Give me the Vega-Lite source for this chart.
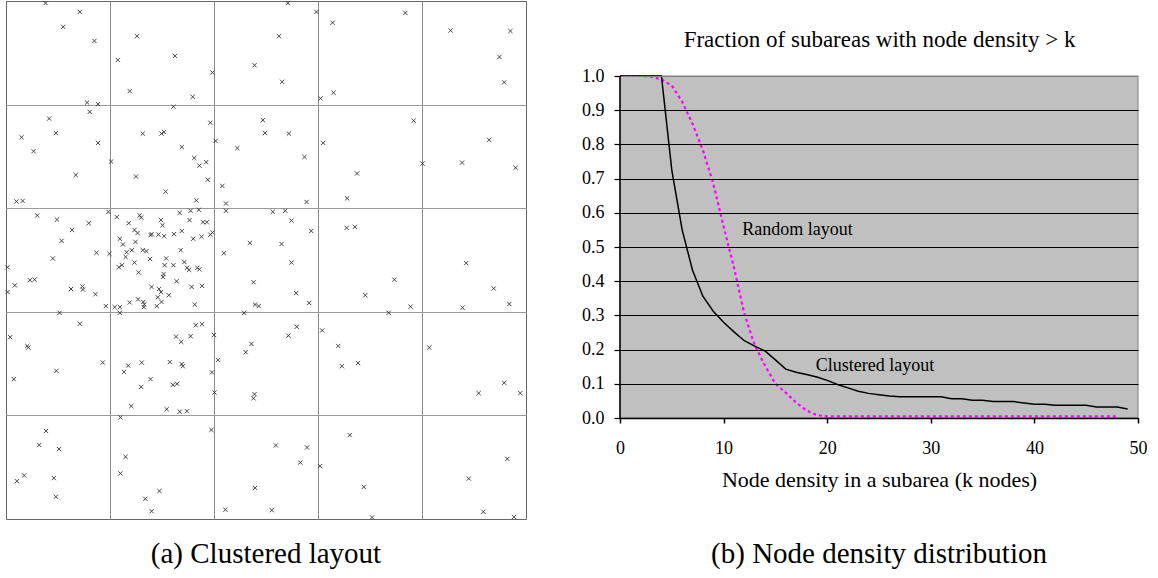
{
  "$schema": "https://vega.github.io/schema/vega-lite/v6.json",
  "padding": {"left": 3, "top": -2, "right": 0, "bottom": 0},
  "background": "white",
  "spacing": 54,
  "config": {
    "font": "Liberation Serif",
    "axis": {"labelColor": "black", "titleColor": "black", "labelFont": "Liberation Serif", "titleFont": "Liberation Serif", "titleFontWeight": "normal"},
    "title": {"font": "Liberation Serif", "fontWeight": "normal", "color": "black"}
  },
  "datasets": {
    "pts": [
      {"x":7.6,"y":99.6},{"x":14.2,"y":97.9},{"x":11.0,"y":95.0},{"x":17.0,"y":92.3},{"x":25.2,"y":93.2},{"x":21.5,"y":88.6},{"x":32.5,"y":89.4},{"x":39.7,"y":86.2},{"x":47.8,"y":87.6},{"x":23.8,"y":82.6},{"x":35.9,"y":81.5},{"x":15.6,"y":80.4},{"x":17.7,"y":80.1},{"x":16.1,"y":78.6},{"x":32.2,"y":79.6},{"x":8.3,"y":77.3},{"x":3.0,"y":73.7},{"x":9.6,"y":74.5},{"x":5.3,"y":71.0},{"x":17.7,"y":72.6},{"x":26.3,"y":74.4},{"x":29.9,"y":74.4},{"x":30.4,"y":74.7},{"x":39.3,"y":76.5},{"x":33.8,"y":71.8},{"x":40.3,"y":73.0},{"x":44.5,"y":71.6},{"x":49.4,"y":77.0},{"x":49.8,"y":74.5},{"x":20.2,"y":69.0},{"x":36.2,"y":69.7},{"x":37.2,"y":68.2},{"x":38.5,"y":68.9},{"x":13.4,"y":66.4},{"x":25.0,"y":66.1},{"x":38.8,"y":65.5},{"x":41.6,"y":64.3},{"x":30.7,"y":63.2},{"x":2.0,"y":61.3},{"x":3.2,"y":61.4},{"x":36.6,"y":61.5},{"x":42.3,"y":60.9},
      {"x":54.2,"y":99.6},{"x":59.7,"y":97.9},{"x":76.8,"y":97.7},{"x":62.8,"y":95.8},{"x":52.5,"y":93.2},{"x":85.5,"y":94.3},{"x":97.0,"y":94.2},{"x":94.9,"y":89.2},{"x":95.8,"y":84.3},{"x":53.1,"y":84.4},{"x":63.0,"y":82.3},{"x":60.5,"y":81.2},{"x":54.4,"y":74.4},{"x":78.4,"y":76.9},{"x":61.0,"y":72.6},{"x":57.4,"y":69.9},{"x":92.9,"y":73.2},{"x":80.1,"y":68.6},{"x":87.7,"y":68.8},{"x":98.0,"y":67.8},{"x":67.5,"y":66.7},{"x":57.8,"y":61.2},{"x":65.6,"y":61.9},
      {"x":6.0,"y":58.6},{"x":9.8,"y":57.8},{"x":15.9,"y":57.1},{"x":12.7,"y":55.8},{"x":10.7,"y":53.7},{"x":19.7,"y":59.3},{"x":21.3,"y":58.3},{"x":23.6,"y":57.1},{"x":25.7,"y":58.6},{"x":26.0,"y":58.2},{"x":29.8,"y":57.7},{"x":30.1,"y":56.7},{"x":33.4,"y":59.1},{"x":35.5,"y":59.5},{"x":37.1,"y":59.7},{"x":35.3,"y":57.7},{"x":37.9,"y":57.3},{"x":38.6,"y":57.3},{"x":42.3,"y":59.5},{"x":24.7,"y":55.8},{"x":25.3,"y":55.2},{"x":27.8,"y":54.8},{"x":28.0,"y":55.0},{"x":29.3,"y":54.9},{"x":30.4,"y":54.6},{"x":32.3,"y":55.0},{"x":33.8,"y":55.6},{"x":36.0,"y":54.1},{"x":37.6,"y":54.5},{"x":39.3,"y":54.9},{"x":39.7,"y":55.3},{"x":46.9,"y":53.3},{"x":21.9,"y":54.1},{"x":22.5,"y":53.0},{"x":24.9,"y":53.5},{"x":17.4,"y":51.4},{"x":19.9,"y":51.2},{"x":23.2,"y":51.5},{"x":23.0,"y":50.6},{"x":24.2,"y":51.9},{"x":26.3,"y":51.9},{"x":27.0,"y":51.7},{"x":33.6,"y":51.9},{"x":41.9,"y":51.3},{"x":9.0,"y":50.3},{"x":0.3,"y":48.6},{"x":21.7,"y":48.6},{"x":22.3,"y":49.0},{"x":24.7,"y":49.5},{"x":27.7,"y":50.2},{"x":30.8,"y":50.3},{"x":30.5,"y":49.0},{"x":32.2,"y":49.0},{"x":34.3,"y":49.6},{"x":34.8,"y":48.5},{"x":35.2,"y":48.1},{"x":36.8,"y":48.5},{"x":37.2,"y":48.2},{"x":25.5,"y":47.6},{"x":30.3,"y":47.3},{"x":30.2,"y":46.7},{"x":32.8,"y":45.9},{"x":1.7,"y":45.1},{"x":4.6,"y":46.1},{"x":5.5,"y":46.2},{"x":0.3,"y":43.8},{"x":12.5,"y":44.4},{"x":14.7,"y":44.9},{"x":14.8,"y":44.3},{"x":17.2,"y":43.4},{"x":28.0,"y":44.8},{"x":29.4,"y":44.4},{"x":29.8,"y":43.8},{"x":35.7,"y":44.8},{"x":37.7,"y":45.0},{"x":47.6,"y":45.7},{"x":29.2,"y":42.8},{"x":31.3,"y":43.2},{"x":29.9,"y":41.9},{"x":25.4,"y":42.4},{"x":23.8,"y":41.8},{"x":26.4,"y":41.9},{"x":26.6,"y":41.4},{"x":26.5,"y":40.9},{"x":19.2,"y":41.1},{"x":20.9,"y":40.9},{"x":21.9,"y":40.9},{"x":29.0,"y":41.1},{"x":36.3,"y":41.4},{"x":47.9,"y":41.4},{"x":48.6,"y":41.1},{"x":10.3,"y":39.8},{"x":21.9,"y":39.8},{"x":45.8,"y":39.8},{"x":14.2,"y":37.7},{"x":0.8,"y":35.1},{"x":4.1,"y":33.4},{"x":4.3,"y":33.1},{"x":32.7,"y":35.2},{"x":33.7,"y":34.2},{"x":35.5,"y":35.3},{"x":36.5,"y":37.4},{"x":37.7,"y":37.6},{"x":40.0,"y":35.5},{"x":47.2,"y":33.8},
      {"x":51.3,"y":59.3},{"x":53.7,"y":59.5},{"x":54.9,"y":57.6},{"x":58.7,"y":55.6},{"x":53.0,"y":53.1},{"x":54.9,"y":49.5},{"x":65.5,"y":56.2},{"x":67.1,"y":56.4},{"x":88.5,"y":49.4},{"x":74.7,"y":46.2},{"x":93.8,"y":44.5},{"x":55.8,"y":43.6},{"x":58.3,"y":41.7},{"x":69.1,"y":43.2},{"x":77.8,"y":41.0},{"x":96.8,"y":41.5},{"x":87.8,"y":40.8},{"x":73.6,"y":39.8},{"x":55.9,"y":37.1},{"x":54.3,"y":35.4},{"x":60.8,"y":36.4},{"x":63.9,"y":33.4},{"x":81.4,"y":33.1},
      {"x":18.6,"y":30.2},{"x":9.7,"y":28.6},{"x":1.5,"y":27.0},{"x":23.5,"y":29.6},{"x":22.7,"y":28.4},{"x":26.1,"y":30.2},{"x":31.5,"y":30.3},{"x":33.8,"y":29.9},{"x":34.0,"y":29.5},{"x":27.8,"y":27.0},{"x":26.0,"y":25.5},{"x":32.1,"y":25.9},{"x":32.9,"y":26.1},{"x":46.1,"y":32.2},{"x":40.8,"y":30.7},{"x":39.6,"y":28.3},{"x":40.1,"y":24.4},{"x":47.8,"y":24.1},{"x":47.6,"y":23.3},{"x":24.1,"y":21.8},{"x":30.9,"y":21.2},{"x":33.4,"y":20.7},{"x":34.8,"y":20.8},{"x":22.0,"y":19.6},{"x":39.5,"y":17.2},{"x":7.7,"y":17.0},{"x":6.4,"y":14.3},{"x":10.2,"y":13.5},{"x":23.0,"y":12.0},{"x":22.0,"y":8.8},{"x":3.5,"y":8.4},{"x":2.1,"y":7.3},{"x":9.2,"y":7.9},{"x":9.6,"y":4.3},{"x":29.5,"y":5.4},{"x":26.8,"y":3.9},{"x":28.0,"y":1.5},{"x":47.9,"y":6.0},{"x":42.2,"y":1.8},
      {"x":64.6,"y":29.5},{"x":67.7,"y":30.1},{"x":95.8,"y":26.3},{"x":90.9,"y":24.3},{"x":98.9,"y":24.3},{"x":66.1,"y":16.2},{"x":51.9,"y":14.2},{"x":57.9,"y":13.8},{"x":56.6,"y":10.9},{"x":60.4,"y":10.2},{"x":68.8,"y":6.2},{"x":51.1,"y":1.7},{"x":70.4,"y":0.3},{"x":96.4,"y":11.6},{"x":89.0,"y":7.8},{"x":91.8,"y":1.4},{"x":97.7,"y":0.4}
    ],
    "curves": [
      {"k":0,"v":1,"series":"Random"},{"k":1,"v":1,"series":"Random"},{"k":2,"v":1,"series":"Random"},{"k":3,"v":0.998,"series":"Random"},{"k":4,"v":0.99,"series":"Random"},{"k":5,"v":0.972,"series":"Random"},{"k":6,"v":0.925,"series":"Random"},{"k":7,"v":0.86,"series":"Random"},{"k":8,"v":0.783,"series":"Random"},{"k":9,"v":0.686,"series":"Random"},{"k":10,"v":0.56,"series":"Random"},{"k":11,"v":0.44,"series":"Random"},{"k":12,"v":0.305,"series":"Random"},{"k":13,"v":0.213,"series":"Random"},{"k":14,"v":0.153,"series":"Random"},{"k":15,"v":0.1,"series":"Random"},{"k":16,"v":0.074,"series":"Random"},{"k":17,"v":0.045,"series":"Random"},{"k":18,"v":0.022,"series":"Random"},{"k":19,"v":0.008,"series":"Random"},{"k":20,"v":0.005,"series":"Random"},{"k":21,"v":0.005,"series":"Random"},{"k":22,"v":0.005,"series":"Random"},{"k":23,"v":0.005,"series":"Random"},{"k":24,"v":0.005,"series":"Random"},{"k":25,"v":0.005,"series":"Random"},{"k":26,"v":0.005,"series":"Random"},{"k":27,"v":0.005,"series":"Random"},{"k":28,"v":0.005,"series":"Random"},{"k":29,"v":0.005,"series":"Random"},{"k":30,"v":0.005,"series":"Random"},{"k":31,"v":0.005,"series":"Random"},{"k":32,"v":0.005,"series":"Random"},{"k":33,"v":0.005,"series":"Random"},{"k":34,"v":0.005,"series":"Random"},{"k":35,"v":0.005,"series":"Random"},{"k":36,"v":0.005,"series":"Random"},{"k":37,"v":0.005,"series":"Random"},{"k":38,"v":0.005,"series":"Random"},{"k":39,"v":0.005,"series":"Random"},{"k":40,"v":0.005,"series":"Random"},{"k":41,"v":0.005,"series":"Random"},{"k":42,"v":0.005,"series":"Random"},{"k":43,"v":0.005,"series":"Random"},{"k":44,"v":0.005,"series":"Random"},{"k":45,"v":0.005,"series":"Random"},{"k":46,"v":0.005,"series":"Random"},{"k":47,"v":0.005,"series":"Random"},{"k":48,"v":0.005,"series":"Random"},
      {"k":0,"v":1,"series":"Clustered"},{"k":1,"v":1,"series":"Clustered"},{"k":2,"v":1,"series":"Clustered"},{"k":3,"v":1,"series":"Clustered"},{"k":4,"v":1,"series":"Clustered"},{"k":5,"v":0.725,"series":"Clustered"},{"k":6,"v":0.55,"series":"Clustered"},{"k":7,"v":0.432,"series":"Clustered"},{"k":8,"v":0.356,"series":"Clustered"},{"k":9,"v":0.312,"series":"Clustered"},{"k":10,"v":0.28,"series":"Clustered"},{"k":11,"v":0.252,"series":"Clustered"},{"k":12,"v":0.226,"series":"Clustered"},{"k":13,"v":0.21,"series":"Clustered"},{"k":14,"v":0.196,"series":"Clustered"},{"k":15,"v":0.17,"series":"Clustered"},{"k":16,"v":0.143,"series":"Clustered"},{"k":17,"v":0.134,"series":"Clustered"},{"k":18,"v":0.127,"series":"Clustered"},{"k":19,"v":0.12,"series":"Clustered"},{"k":20,"v":0.11,"series":"Clustered"},{"k":21,"v":0.098,"series":"Clustered"},{"k":22,"v":0.088,"series":"Clustered"},{"k":23,"v":0.078,"series":"Clustered"},{"k":24,"v":0.072,"series":"Clustered"},{"k":25,"v":0.068,"series":"Clustered"},{"k":26,"v":0.064,"series":"Clustered"},{"k":27,"v":0.062,"series":"Clustered"},{"k":28,"v":0.062,"series":"Clustered"},{"k":29,"v":0.062,"series":"Clustered"},{"k":30,"v":0.062,"series":"Clustered"},{"k":31,"v":0.062,"series":"Clustered"},{"k":32,"v":0.056,"series":"Clustered"},{"k":33,"v":0.056,"series":"Clustered"},{"k":34,"v":0.052,"series":"Clustered"},{"k":35,"v":0.052,"series":"Clustered"},{"k":36,"v":0.048,"series":"Clustered"},{"k":37,"v":0.048,"series":"Clustered"},{"k":38,"v":0.048,"series":"Clustered"},{"k":39,"v":0.044,"series":"Clustered"},{"k":40,"v":0.04,"series":"Clustered"},{"k":41,"v":0.04,"series":"Clustered"},{"k":42,"v":0.037,"series":"Clustered"},{"k":43,"v":0.037,"series":"Clustered"},{"k":44,"v":0.037,"series":"Clustered"},{"k":45,"v":0.037,"series":"Clustered"},{"k":46,"v":0.032,"series":"Clustered"},{"k":47,"v":0.032,"series":"Clustered"},{"k":48,"v":0.032,"series":"Clustered"},{"k":49,"v":0.026,"series":"Clustered"}
    ],
    "labels": [
      {"k":11.8,"v":0.55,"label":"Random layout"},
      {"k":18.9,"v":0.153,"label":"Clustered layout"}
    ],
    "bg": [{"k":0,"k2":50,"v":0,"v2":1}],
    "yline": [{"k":0,"v":0,"v2":1}]
  },
  "hconcat": [
    {
      "width": 520,
      "height": 518,
      "data": {"name": "pts"},
      "view": {"stroke": "#666666", "strokeWidth": 1, "fill": "white"},
      "title": {"text": "(a) Clustered layout", "orient": "bottom", "anchor": "middle", "frame": "group", "fontSize": 29, "offset": 19},
      "mark": {"type": "point", "shape": "M-1,-1L1,1M-1,1L1,-1", "filled": false, "size": 18, "strokeWidth": 0.9, "color": "#333333", "opacity": 1},
      "encoding": {
        "x": {"field": "x", "type": "quantitative", "scale": {"domain": [0, 100], "nice": false, "zero": false},
              "axis": {"values": [20, 40, 60, 80], "grid": true, "gridColor": "#8c8c8c", "gridOpacity": 1, "gridWidth": 1, "domain": false, "ticks": false, "labels": false, "title": null}},
        "y": {"field": "y", "type": "quantitative", "scale": {"domain": [0, 100], "nice": false, "zero": false},
              "axis": {"values": [20, 40, 60, 80], "grid": true, "gridColor": "#9a9a9a", "gridOpacity": 1, "gridWidth": 1, "domain": false, "ticks": false, "labels": false, "title": null}}
      }
    },
    {
      "width": 518,
      "height": 417,
      "view": {"fill": null, "stroke": null},
      "title": {"text": "(b) Node density distribution", "orient": "bottom", "anchor": "middle", "frame": "group", "fontSize": 29, "offset": 50},
      "encoding": {
        "x": {"field": "k", "type": "quantitative", "scale": {"domain": [0, 50], "nice": false, "zero": false},
              "axis": {"values": [0, 10, 20, 30, 40, 50], "grid": false, "zindex": 1, "domain": true, "domainColor": "black", "domainWidth": 1.5, "ticks": true, "tickColor": "black", "tickSize": 5, "tickWidth": 1.5,
                       "labelFontSize": 18, "labelPadding": 16, "labelFlush": false,
                       "title": "Node density in a subarea (k nodes)", "titleFontSize": 22, "titlePadding": 12}},
        "y": {"field": "v", "type": "quantitative", "scale": {"domain": [0, 1.2193], "nice": false, "zero": false},
              "axis": {"values": [0, 0.1, 0.2, 0.3, 0.4, 0.5, 0.6, 0.7, 0.8, 0.9, 1.0], "format": ".1f", "zindex": 1,
                       "grid": true, "gridColor": {"condition": {"test": "datum.value >= 1", "value": "#808080"}, "value": "black"}, "gridOpacity": 1, "gridWidth": 1.2,
                       "domain": false, "ticks": true, "tickColor": "black", "tickSize": 6, "tickWidth": 1.2,
                       "labelFontSize": 18, "labelPadding": 10, "labelFlush": false,
                       "title": "Fraction of subareas with node density > k", "titleFontSize": 23, "titleAngle": 0, "titleAlign": "center", "titleBaseline": "middle",
                       "titleX": 259, "titleY": 38}}
      },
      "layer": [
        {
          "data": {"name": "bg"},
          "mark": {"type": "rect", "fill": "#c0c0c0", "stroke": "#808080", "strokeWidth": 1},
          "encoding": {"x2": {"field": "k2"}, "y2": {"field": "v2"}}
        },
        {
          "data": {"name": "curves"},
          "transform": [{"filter": "datum.series === 'Random'"}],
          "mark": {"type": "line", "color": "#ff00ff", "strokeDash": [3, 3], "strokeWidth": 2.2}
        },
        {
          "data": {"name": "curves"},
          "transform": [{"filter": "datum.series === 'Clustered'"}],
          "mark": {"type": "line", "color": "black", "strokeWidth": 1.5}
        },
        {
          "data": {"name": "yline"},
          "mark": {"type": "rule", "color": "black", "strokeWidth": 1.5},
          "encoding": {"y2": {"field": "v2"}}
        },
        {
          "data": {"name": "labels"},
          "mark": {"type": "text", "align": "left", "baseline": "middle", "fontSize": 18, "color": "black"},
          "encoding": {"text": {"field": "label"}}
        }
      ]
    }
  ]
}
